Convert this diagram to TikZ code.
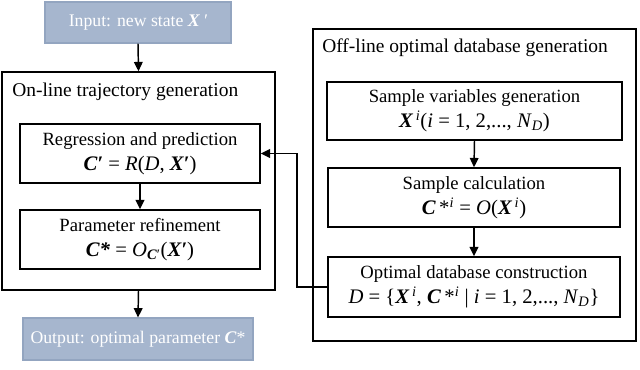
\documentclass[tikz,border=0pt]{standalone}
\usepackage{fontspec}
\setmainfont{Liberation Serif}
\usetikzlibrary{arrows.meta}
\definecolor{ioblue}{HTML}{A6B6CE}
\definecolor{ioedge}{HTML}{93A5C0}
\newcommand{\bi}[1]{\textbf{\textit{#1}}}
\newcommand{\fml}{\fontsize{15.5}{18.5}\selectfont}
\begin{document}
\begin{tikzpicture}[x=0.75pt,y=-0.75pt,
  box/.style={draw=black,line width=1.1pt,inner sep=0pt,align=center,font=\fontsize{14}{18.5}\selectfont},
  iobox/.style={draw=ioedge,fill=ioblue,line width=0.8pt,text=white,inner sep=0pt,font=\fontsize{13.3}{15}\selectfont},
  ttl/.style={anchor=west,inner sep=0pt,font=\fontsize{14.6}{17}\selectfont},
  arr/.style={line width=1.1pt,-{Triangle[length=7pt,width=6.5pt]}}]
\useasboundingbox (0,0) rectangle (640,369);
\node[iobox,minimum width=139.5pt,minimum height=30.75pt] (in) at (138,22.5) {Input: new state \bi{X}\,\textit{′}};
\node[box,minimum width=204.75pt,minimum height=163.5pt] (on) at (138.5,181) {};
\node[ttl] (ont) at (12,92) {On-line trajectory generation};
\node[box,minimum width=180pt,minimum height=44.25pt] (reg) at (140,153.5) {Regression and prediction\\{\fml\bi{C′} = \textit{R}(\textit{D}, \bi{X′})}};
\node[box,minimum width=180pt,minimum height=44.25pt] (par) at (140,239.5) {Parameter refinement\\{\fml\bi{C*} = \textit{O}\textsubscript{\bi{C}′}(\bi{X′})}};
\node[iobox,minimum width=172.5pt,minimum height=31.5pt] (out) at (138,339) {Output: optimal parameter \bi{C}*};
\node[box,minimum width=242.25pt,minimum height=234pt] (off) at (474.5,185) {};
\node[ttl] (offt) at (322,48) {Off-line optimal database generation};
\node[box,minimum width=221.25pt,minimum height=43.5pt] (sv) at (474.5,111) {Sample variables generation\\{\fml\bi{X}\textsuperscript{\,\textit{i}}(\textit{i} = 1, 2,..., \textit{N}\textsubscript{\textit{D}})}};
\node[box,minimum width=219pt,minimum height=44.25pt] (sc) at (474,197.5) {Sample calculation\\{\fml\bi{C}\,*\textsuperscript{\textit{i}} = \textit{O}(\bi{X}\textsuperscript{\,\textit{i}})}};
\node[box,minimum width=219pt,minimum height=45pt] (db) at (474,287) {Optimal database construction\\{\fml\textit{D} = \{\bi{X}\textsuperscript{\,\textit{i}}, \bi{C}\,*\textsuperscript{\textit{i}} | \textit{i} = 1, 2,..., \textit{N}\textsubscript{\textit{D}}\}}};
\coordinate (fb) at (297,287);
\draw[arr] (in.south) -- (on.north);
\draw[arr] (reg.south) -- (par.north);
\draw[arr] (on.south) -- (out.north);
\draw[arr] (sv.south) -- (sc.north);
\draw[arr] (sc.south) -- (db.north);
\draw[arr] (db.west) -- (fb) |- (reg.east);
\end{tikzpicture}
\end{document}
